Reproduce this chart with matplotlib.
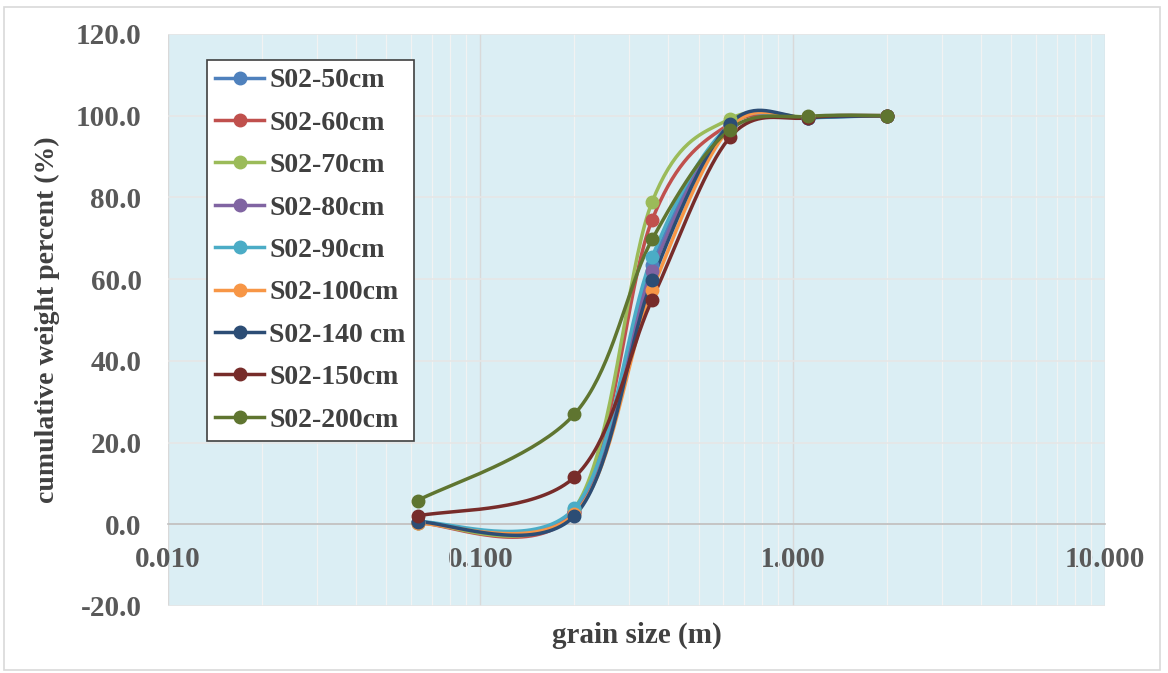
import numpy as np
import matplotlib
matplotlib.use('Agg')
import matplotlib.pyplot as plt
from matplotlib.patches import Rectangle
from matplotlib.ticker import FixedLocator, FuncFormatter

# grain sizes (sieve openings)
sizes = [0.063, 0.2, 0.355, 0.63, 1.12, 2.0]

labels = ['S02-50cm', 'S02-60cm', 'S02-70cm', 'S02-80cm', 'S02-90cm',
          'S02-100cm', 'S02-140 cm', 'S02-150cm', 'S02-200cm']
s50 = [0.5, 3.0, 63.5, 97.5, 99.5, 100.0]
s60 = [0.3, 3.0, 74.5, 98.0, 99.6, 100.0]
s70 = [0.4, 3.8, 78.9, 99.2, 99.7, 100.0]
s80 = [0.5, 3.0, 62.0, 97.5, 99.5, 100.0]
s90 = [0.6, 3.9, 65.4, 97.8, 99.4, 100.0]
s100 = [0.2, 2.5, 57.3, 97.0, 99.6, 100.0]
s140 = [0.6, 2.0, 59.7, 98.0, 99.5, 100.0]
s150 = [2.0, 11.5, 55.0, 94.7, 99.5, 100.0]
s200 = [5.8, 26.9, 69.7, 96.6, 99.8, 100.0]
series = [s50, s60, s70, s80, s90, s100, s140, s150, s200]
colors = ['#4F81BD', '#C0504D', '#9BBB59', '#8064A2', '#4BACC6',
          '#F79646', '#2C4D75', '#772C2A', '#5F7530']

yticks = [-20, 0, 20, 40, 60, 80, 100, 120]
xticks = [0.01, 0.1, 1, 10]


def smooth(xs, ys, n=40):
    # excel-like smoothed line (catmull-rom bezier in log-x space)
    px = np.log10(xs)
    py = np.array(ys, dtype=float)
    outx, outy = [], []
    m = len(px)
    for i in range(m - 1):
        i0 = max(i - 1, 0)
        i3 = min(i + 2, m - 1)
        p0 = np.array([px[i0], py[i0]])
        p1 = np.array([px[i], py[i]])
        p2 = np.array([px[i + 1], py[i + 1]])
        p3 = np.array([px[i3], py[i3]])
        c1 = p1 + (p2 - p0) / 6
        c2 = p2 - (p3 - p1) / 6
        t = np.linspace(0, 1, n)[:, None]
        b = ((1 - t) ** 3 * p1 + 3 * (1 - t) ** 2 * t * c1
             + 3 * (1 - t) * t ** 2 * c2 + t ** 3 * p2)
        outx.extend(b[:, 0])
        outy.extend(b[:, 1])
    return 10 ** np.array(outx), np.array(outy)


plt.rcParams['font.family'] = ['Liberation Serif', 'DejaVu Serif']
plt.rcParams['font.weight'] = 'bold'

fig = plt.figure(figsize=(11.68, 6.73), dpi=100)
fig.patches.append(Rectangle((0.003, 0.004), 0.99, 0.986, transform=fig.transFigure,
                             fill=False, edgecolor='#D9D9D9', lw=1.2))
ax = fig.add_axes([0.1438, 0.0996, 0.8022, 0.85])
ax.set_facecolor('#DBEEF4')
ax.set_xscale('log')
ax.set_xlim(0.01, 10)
ax.set_ylim(-20, 120)

ax.xaxis.set_major_locator(FixedLocator(xticks))
ax.xaxis.set_major_formatter(FuncFormatter(lambda v, p: '%.3f' % v))
ax.yaxis.set_major_locator(FixedLocator(yticks))
ax.yaxis.set_major_formatter(FuncFormatter(lambda v, p: '%.1f' % v))

ax.grid(which='major', axis='x', color='#D9D9D9', lw=1.0)
ax.grid(which='minor', axis='x', color='#F2F2F2', lw=0.9)
ax.grid(which='major', axis='y', color='#E6E6E6', lw=1.2)
ax.set_axisbelow(True)

for sp in ['top', 'right', 'left']:
    ax.spines[sp].set_visible(False)
ax.spines['bottom'].set_position(('data', 0))
ax.spines['bottom'].set_color('#BFBFBF')
ax.spines['bottom'].set_linewidth(1.2)
ax.tick_params(axis='both', which='both', length=0, colors='#595959', labelsize=21)
ax.tick_params(axis='x', pad=16)
ax.tick_params(axis='y', pad=19)
for t in ax.get_xticklabels() + ax.get_yticklabels():
    t.set_fontweight('bold')

for ys, lab, c in zip(series, labels, colors):
    sx, sy = smooth(sizes, ys)
    ax.plot(sx, sy, color=c, lw=2.5, zorder=3)
    ax.plot(sizes, ys, 'o', color=c, ms=9, zorder=4)
    ax.plot([], [], '-o', color=c, lw=2.5, ms=9, label=lab)

ax.set_ylabel('cumulative weight percent (%)', fontsize=20, fontweight='bold',
              color='#404040')
ax.yaxis.set_label_coords(-0.115, 0.5)
ax.set_xlabel('grain size (m)', fontsize=21, fontweight='bold', color='#404040')
ax.xaxis.set_label_coords(0.5, -0.028)

leg = ax.legend(loc='upper left', bbox_to_anchor=(0.0416, 0.955),
                prop={'size': 20, 'weight': 'bold'},
                frameon=True, fancybox=False, handlelength=1.75, labelspacing=0.61,
                borderpad=0.3, handletextpad=0.2, borderaxespad=0)
leg.get_frame().set_edgecolor('#404040')
leg.get_frame().set_linewidth(1.2)
leg.get_frame().set_facecolor('white')
leg.get_frame().set_alpha(1)
for t in leg.get_texts():
    t.set_color('#404040')

plt.savefig('out.png', dpi=100)
